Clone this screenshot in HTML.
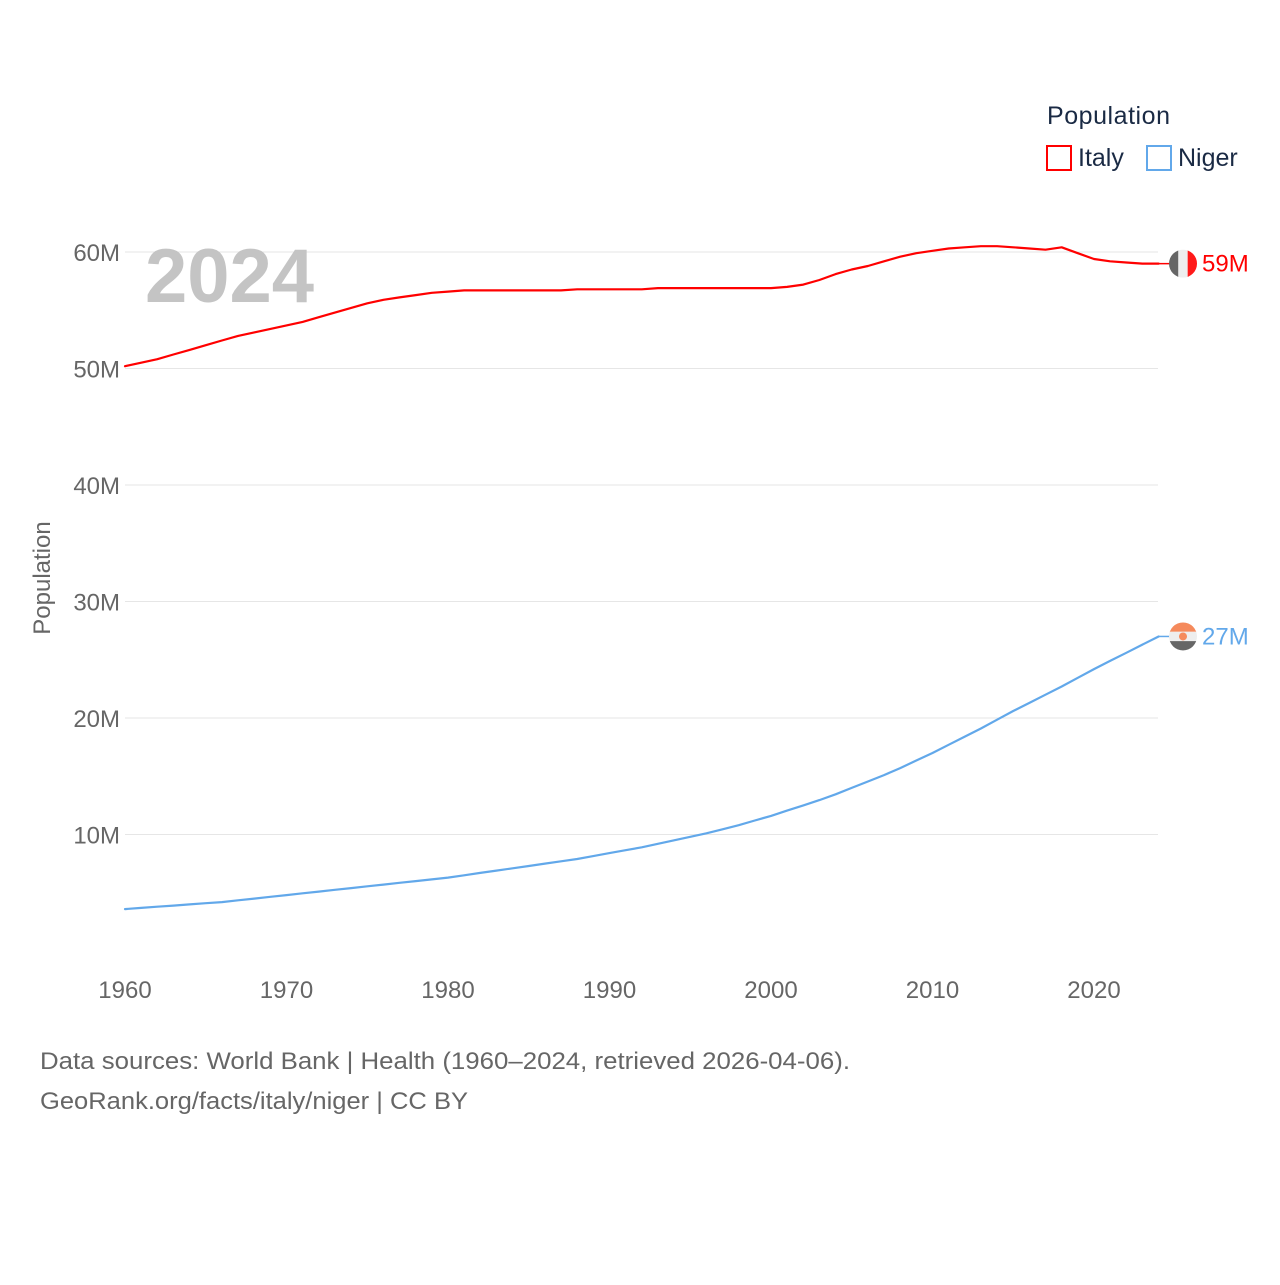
<!DOCTYPE html>
<html><head><meta charset="utf-8"><style>
body{margin:0;background:#fff;width:1280px;height:1280px;overflow:hidden;font-family:"Liberation Sans",sans-serif}
svg text{font-family:"Liberation Sans",sans-serif}
</style></head><body>
<svg id="chart" width="1280" height="1280" xmlns="http://www.w3.org/2000/svg">
<g id="grid"></g>
<g id="yticks"></g>
<g id="xticks"></g>
<text x="145" y="302" font-size="76" font-weight="bold" fill="#c4c4c4">2024</text>
<text transform="translate(50,578) rotate(-90)" text-anchor="middle" font-size="24" fill="#666">Population</text>
<g id="series"></g>
<g>
<text x="1047" y="124" font-size="25" fill="#1a2a44" textLength="123">Population</text>
<rect x="1047" y="146" width="24" height="24" fill="none" stroke="#ff0000" stroke-width="2"/>
<text x="1078" y="166" font-size="25" fill="#1a2a44">Italy</text>
<rect x="1147" y="146" width="24" height="24" fill="none" stroke="#62a8ea" stroke-width="2"/>
<text x="1178" y="166" font-size="25" fill="#1a2a44">Niger</text>
</g>
<text x="40" y="1069" font-size="24" fill="#666" textLength="810" lengthAdjust="spacingAndGlyphs">Data sources: World Bank | Health (1960–2024, retrieved 2026-04-06).</text>
<text x="40" y="1109" font-size="24" fill="#666" textLength="428" lengthAdjust="spacingAndGlyphs">GeoRank.org/facts/italy/niger | CC BY</text>
</svg>
<script>
const years=[];for(let y=1960;y<=2024;y++)years.push(y);
const italy=[50.2,50.5,50.8,51.2,51.6,52.0,52.4,52.8,53.1,53.4,
53.7,54.0,54.4,54.8,55.2,55.6,55.9,56.1,56.3,56.5,
56.6,56.7,56.7,56.7,56.7,56.7,56.7,56.7,56.8,56.8,
56.8,56.8,56.8,56.9,56.9,56.9,56.9,56.9,56.9,56.9,
56.9,57.0,57.2,57.6,58.1,58.5,58.8,59.2,59.6,59.9,
60.1,60.3,60.4,60.5,60.5,60.4,60.3,60.2,60.4,59.9,
59.4,59.2,59.1,59.0,59.0];
const niger=[3.6,3.7,3.8,3.9,4.0,4.1,4.2,4.35,4.5,4.65,
4.8,4.95,5.1,5.25,5.4,5.55,5.7,5.85,6.0,6.15,
6.3,6.5,6.7,6.9,7.1,7.3,7.5,7.7,7.9,8.15,
8.4,8.65,8.9,9.2,9.5,9.8,10.1,10.45,10.8,11.2,
11.6,12.05,12.5,12.95,13.45,14.0,14.55,15.1,15.7,16.35,
17.0,17.7,18.4,19.1,19.85,20.6,21.3,22.0,22.7,23.45,
24.2,24.9,25.6,26.3,27.0];
const yTicks=[10,20,30,40,50,60];
const yTickLabels=["10M","20M","30M","40M","50M","60M"];
const xTicks=[1960,1970,1980,1990,2000,2010,2020];
const endLabels=["59M","27M"];
const NS="http://www.w3.org/2000/svg";
const X=y=>125+(y-1960)*(969/60);
const Y=v=>951-v*11.65;
function mk(tag,attrs,parent){const e=document.createElementNS(NS,tag);for(const k in attrs)e.setAttribute(k,attrs[k]);parent.appendChild(e);return e;}
const grid=document.getElementById('grid'),yt=document.getElementById('yticks'),xt=document.getElementById('xticks'),ser=document.getElementById('series');
yTicks.forEach((v,i)=>{
 const l=mk('line',{x1:125,x2:1158,y1:Y(v),y2:Y(v),stroke:'#e6e6e6','stroke-width':1},grid);
 
 
 const t=mk('text',{x:120,y:Y(v)+9,'text-anchor':'end','font-size':24,fill:'#666'},yt);
 t.textContent=yTickLabels[i];
 
 
});
xTicks.forEach(v=>{
 const t=mk('text',{x:X(v),y:998,'text-anchor':'middle','font-size':24,fill:'#666'},xt);
 t.textContent=v;
 
 
});
function line(data,color,name,label,flag){
 const d=data.map((v,i)=>(i?'L':'M')+X(years[i]).toFixed(1)+','+Y(v).toFixed(1)).join(' ');
 const p=mk('path',{d:d,fill:'none',stroke:color,'stroke-width':2.2,'stroke-linejoin':'round','stroke-linecap':'round'},ser);
 
 
 const last=data[data.length-1],ly=Y(last),lx=X(2024);
 mk('line',{x1:lx,x2:1170,y1:ly,y2:ly,stroke:color,'stroke-width':1.5},ser);
 const g=mk('g',{},ser);
 
 
 const cx=1183,r=14;
 const clip=mk('clipPath',{id:'c'+name},g);
 mk('circle',{cx:cx,cy:ly,r:r},clip);
 const cg=mk('g',{'clip-path':'url(#c'+name+')'},g);
 if(flag==='it'){
  mk('rect',{x:cx-r,y:ly-r,width:r*2/3,height:2*r,fill:'#666'},cg);
  mk('rect',{x:cx-r/3,y:ly-r,width:r*2/3,height:2*r,fill:'#eee'},cg);
  mk('rect',{x:cx+r/3,y:ly-r,width:r*2/3,height:2*r,fill:'#ff1a1a'},cg);
 }else{
  mk('rect',{x:cx-r,y:ly-r,width:2*r,height:2*r/3,fill:'#f58a5c'},cg);
  mk('rect',{x:cx-r,y:ly-r/3,width:2*r,height:2*r/3,fill:'#eee'},cg);
  mk('rect',{x:cx-r,y:ly+r/3,width:2*r,height:2*r/3,fill:'#666'},cg);
  mk('circle',{cx:cx,cy:ly,r:4,fill:'#f58a5c'},cg);
 }
 const t=mk('text',{x:1202,y:ly+8,'font-size':24,fill:color},ser);
 t.textContent=label;
 
 
}
line(italy,'#ff0000','italy',endLabels[0],'it');
line(niger,'#62a8ea','niger',endLabels[1],'ne');
</script>
</body></html>
